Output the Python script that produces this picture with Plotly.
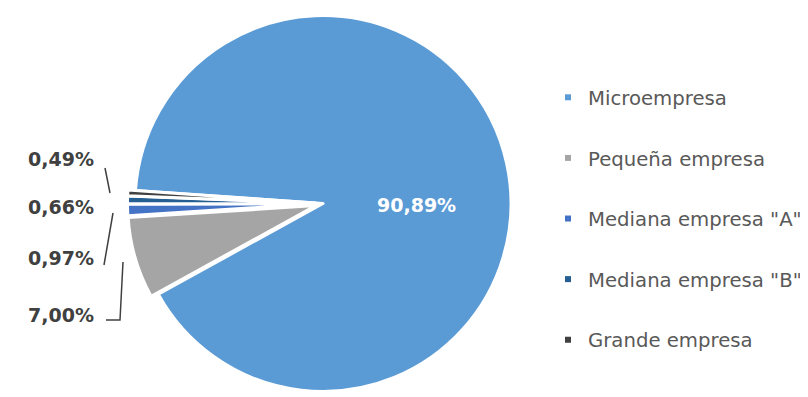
import plotly.graph_objects as go

W, H = 808, 397
OFF = 8  # default page body margin offsets the figure by 8px

categories = ["Microempresa", "Pequeña empresa", 'Mediana empresa "A"', 'Mediana empresa "B"', "Grande empresa"]
values = [90.89, 7.00, 0.97, 0.66, 0.49]
value_labels = ["90,89%", "7,00%", "0,97%", "0,66%", "0,49%"]
colors = ["#5B9BD5", "#A5A5A5", "#4472C4", "#255E91", "#404040"]
pulls = [0, 0.04, 0.04, 0.04, 0.04]


def px(x, y):
    """page pixel -> paper coords"""
    return (x - OFF) / W, 1 - (y - OFF) / H


fig = go.Figure()

fig.add_trace(go.Pie(
    labels=categories,
    values=values,
    text=value_labels,
    textinfo="none",
    sort=False,
    direction="clockwise",
    rotation=274,
    pull=pulls,
    marker=dict(colors=colors, line=dict(color="white", width=3)),
    domain=dict(x=[0, 630 / W], y=[6 / H, 1]),
    showlegend=False,
    hoverinfo="label+text",
))

# legend entries (one group each, so spacing can be set)
for name, col in zip(categories, colors):
    fig.add_trace(go.Scatter(
        x=[None], y=[None], mode="markers", name=name, legendgroup=name,
        marker=dict(symbol="square", size=6, color=col),
    ))

# value labels
label_pos = {
    "90,89%": (416, 205, "center", "white"),
    "0,49%": (96, 159, "right", "#404040"),
    "0,66%": (96, 207, "right", "#404040"),
    "0,97%": (96, 258, "right", "#404040"),
    "7,00%": (96, 315, "right", "#404040"),
}
for lab in value_labels:
    x0, y0, anc, col = label_pos[lab]
    xx, yv = px(x0, y0)
    fig.add_annotation(x=xx, y=yv, xref="paper", yref="paper", text=lab,
                       showarrow=False, xanchor=anc, yanchor="middle",
                       font=dict(family="DejaVu Sans", size=19, color=col, weight="bold"))

# leader lines
leaders = [
    [(105, 168), (110, 193)],
    [(104, 265), (113, 213)],
    [(106, 320), (120, 320), (123, 262)],
]
for pts in leaders:
    path = ""
    for i, (a, b) in enumerate(pts):
        xx, yy = px(a, b)
        path += ("M" if i == 0 else " L") + f" {xx} {yy}"
    fig.add_shape(type="path", path=path, xref="paper", yref="paper",
                  line=dict(color="#404040", width=1.5))

lx, ly = px(548, 78)
fig.update_layout(
    width=W, height=H,
    margin=dict(l=0, r=0, t=0, b=0),
    paper_bgcolor="white", plot_bgcolor="white",
    xaxis=dict(visible=False), yaxis=dict(visible=False),
    legend=dict(x=lx, y=ly, xanchor="left", yanchor="top",
                tracegroupgap=32, font=dict(family="DejaVu Sans", size=19.7, color="#595959"),
                bgcolor="rgba(0,0,0,0)"),
)

fig.write_html("out.html")
